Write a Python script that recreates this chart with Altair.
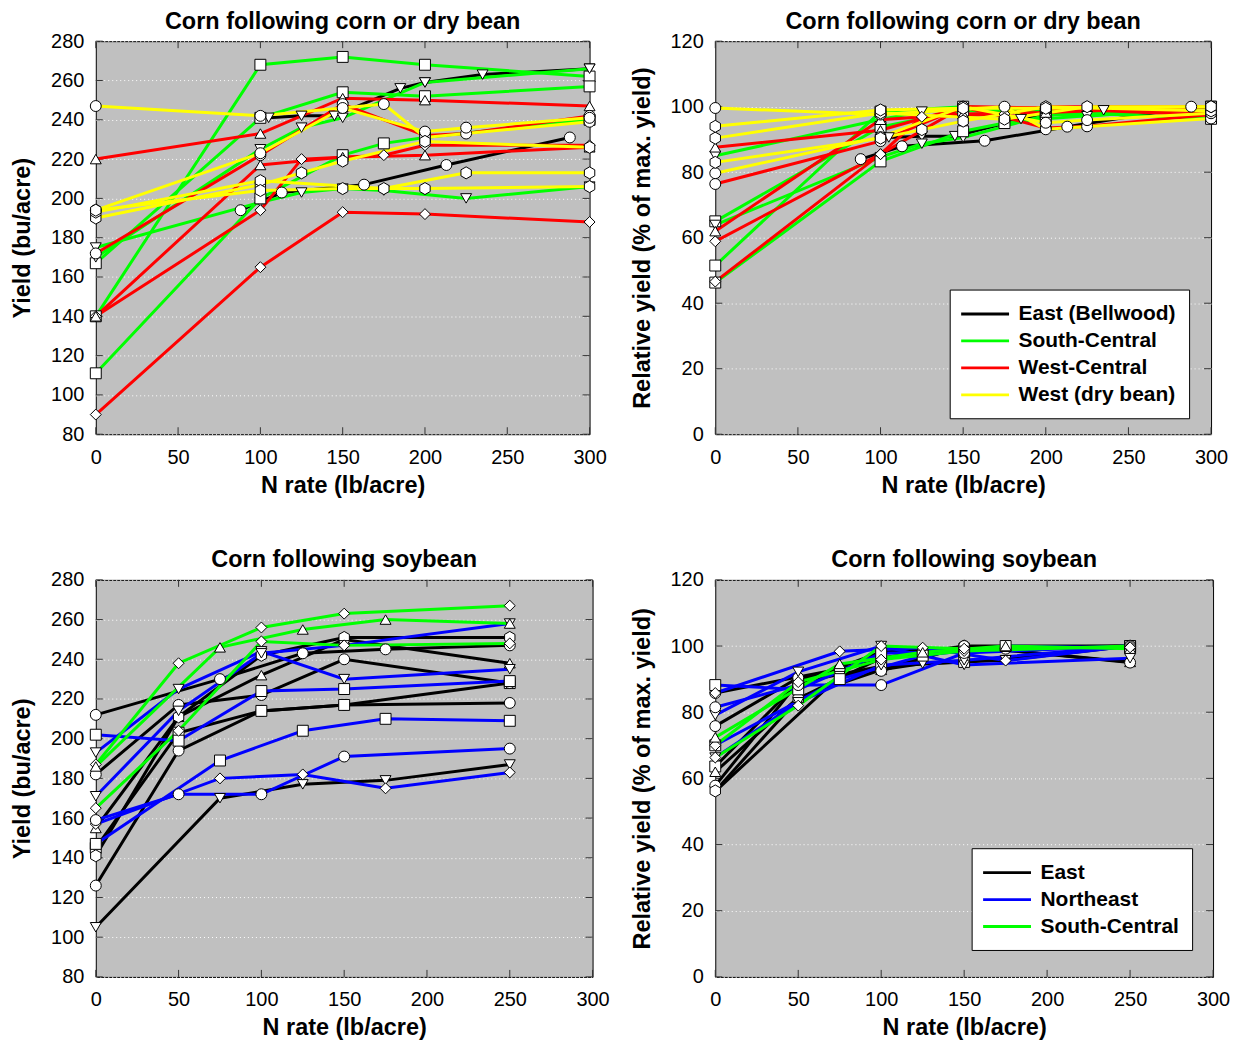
import altair as alt
import pandas as pd

FONT = "Liberation Sans"

# ---------------- shared axis values ----------------
X_TICKS = [0, 50, 100, 150, 200, 250, 300]
YIELD_TICKS = [80, 100, 120, 140, 160, 180, 200, 220, 240, 260, 280]
REL_TICKS = [0, 20, 40, 60, 80, 100, 120]

# ---------------- regions / colours ----------------
REGIONS_TOP = ["East (Bellwood)", "South-Central", "West-Central", "West (dry bean)"]
COLORS_TOP = ["#000000", "#00ff00", "#ff0000", "#ffff00"]
REGIONS_BOT = ["East", "Northeast", "South-Central"]
COLORS_BOT = ["#000000", "#0000ff", "#00ff00"]

MARKERS = ["circle", "square", "tri_up", "tri_down", "diamond", "hexagon"]
SHAPES = ["circle", "square", "triangle-up", "triangle-down", "diamond",
          "M0,-1.1L0.95,-0.55L0.95,0.55L0,1.1L-0.95,0.55L-0.95,-0.55Z"]

# ---------------- top-left: yield, corn following corn or dry bean ----------------
tl_e1_x = [105, 125, 145, 185, 200, 235, 300]
tl_e1_y = [241, 242, 242, 256, 259, 263, 266]
tl_e2_x = [88, 113, 163, 213, 288]
tl_e2_y = [194, 203, 207, 217, 231]
tl_g1_x = [0, 100, 150, 200, 300]
tl_g1_y = [140, 268, 272, 268, 262]
tl_g2_x = [0, 100, 150, 200, 300]
tl_g2_y = [167, 241, 254, 252, 257]
tl_g3_x = [0, 100, 125, 150, 200, 300]
tl_g3_y = [170, 225, 236, 241, 259, 266]
tl_g4_x = [0, 100, 125, 150, 175, 225, 300]
tl_g4_y = [175, 198, 203, 205, 204, 200, 206]
tl_g5_x = [0, 100, 150, 175, 200, 300]
tl_g5_y = [111, 200, 222, 228, 231, 240]
tl_w1_x = [0, 100, 150, 200, 300]
tl_w1_y = [220, 233, 251, 250, 247]
tl_w2_x = [0, 100, 150, 200, 300]
tl_w2_y = [90, 165, 193, 192, 188]
tl_w3_x = [0, 100, 125, 175, 200, 300]
tl_w3_y = [140, 194, 220, 222, 227, 227]
tl_w4_x = [0, 100, 150, 200, 300]
tl_w4_y = [140, 217, 221, 222, 226]
tl_w5_x = [0, 100, 150, 200, 225, 300]
tl_w5_y = [172, 222, 248, 232, 233, 242]
tl_y1_x = [0, 100, 175, 200, 300]
tl_y1_y = [247, 242, 248, 231, 239]
tl_y2_x = [0, 100, 150, 200, 225, 300]
tl_y2_y = [194, 223, 246, 234, 236, 241]
tl_y3_x = [0, 100, 125, 150, 200, 300]
tl_y3_y = [190, 207, 213, 219, 229, 226]
tl_y4_x = [0, 100, 175, 225, 300]
tl_y4_y = [193, 209, 205, 213, 213]
tl_y5_x = [0, 100, 150, 200, 300]
tl_y5_y = [194, 204, 205, 205, 206]

# ---------------- top-right: relative yield, corn following corn or dry bean ----------------
tr_e1_y = [90.6, 91.0, 91.0, 96.2, 97.4, 98.9, 100]
tr_e2_y = [84.0, 87.9, 89.6, 93.9, 100]
tr_g1_y = [51.5, 98.5, 100, 98.5, 96.3]
tr_g2_y = [65.0, 93.8, 98.8, 98.0, 100]
tr_g3_y = [63.9, 84.6, 88.7, 90.6, 97.4, 100]
tr_g4_y = [85.0, 96.1, 98.5, 99.5, 99.0, 97.1, 100]
tr_g5_y = [46.3, 83.3, 92.5, 95.0, 96.3, 100]
tr_w1_y = [87.6, 92.8, 100, 99.6, 98.4]
tr_w2_y = [46.6, 85.5, 100, 99.5, 97.4]
tr_w3_y = [58.9, 85.5, 96.9, 97.8, 100, 100]
tr_w4_y = [62.0, 96.0, 97.8, 98.2, 100]
tr_w5_y = [76.4, 89.5, 100, 93.5, 94.0, 97.6]
tr_y1_y = [99.6, 97.6, 100, 93.1, 96.4]
tr_y2_y = [79.7, 90.7, 100, 95.1, 95.9, 98.0]
tr_y3_y = [83.0, 90.4, 93.0, 95.6, 100, 98.7]
tr_y4_y = [90.4, 98.1, 96.2, 100, 100]
tr_y5_y = [94.0, 99.0, 99.5, 99.5, 100]

# ---------------- bottom-left: yield, corn following soybean ----------------
bl_s1_x = [0, 50, 100, 150, 250]
bl_s1_y = [187, 238, 256, 263, 267]
bl_s2_x = [0, 75, 125, 175, 250]
bl_s2_y = [186, 246, 255, 260, 258]
bl_s3_x = [0, 50, 100, 150, 250]
bl_s3_y = [165, 204, 249, 247, 248]
bl_n1_x = [0, 50, 100, 150, 250]
bl_n1_y = [193, 225, 244, 230, 235]
bl_n2_x = [0, 50, 100, 150, 250]
bl_n2_y = [171, 214, 243, 247, 258]
bl_n3_x = [0, 50, 100, 150, 250]
bl_n3_y = [202, 199, 224, 225, 229]
bl_n4_x = [0, 75, 125, 175, 250]
bl_n4_y = [147, 189, 204, 210, 209]
bl_n5_x = [0, 75, 125, 175, 250]
bl_n5_y = [157, 180, 182, 175, 183]
bl_n6_x = [0, 50, 100, 150, 250]
bl_n6_y = [159, 172, 172, 191, 195]
bl_b1_x = [0, 75, 125, 175, 250]
bl_b1_y = [212, 230, 243, 245, 247]
bl_b2_x = [0, 75, 125, 175, 250]
bl_b2_y = [105, 170, 177, 179, 187]
bl_b3_x = [0, 50, 100, 150, 250]
bl_b3_y = [126, 194, 214, 217, 218]
bl_b4_x = [0, 50, 100, 150, 250]
bl_b4_y = [145, 203, 214, 217, 228]
bl_b5_x = [0, 50, 100, 150, 250]
bl_b5_y = [155, 211, 232, 250, 238]
bl_b6_x = [0, 50, 100, 150, 250]
bl_b6_y = [141, 211, 242, 251, 251]
bl_b7_x = [0, 50, 100, 150, 250]
bl_b7_y = [182, 217, 222, 240, 228]

# ---------------- bottom-right: relative yield, corn following soybean ----------------
br_s1_y = [70.0, 89.1, 95.9, 98.5, 100]
br_s2_y = [72.4, 94.6, 98.1, 100, 99.2]
br_s3_y = [66.3, 82.0, 100, 99.2, 99.6]
br_n1_y = [79.1, 92.2, 100, 94.3, 96.3]
br_n2_y = [66.3, 83.0, 94.2, 95.7, 100]
br_n3_y = [88.2, 86.9, 97.8, 98.3, 100]
br_n4_y = [70.0, 90.0, 97.1, 100, 99.5]
br_n5_y = [85.8, 98.4, 99.5, 95.6, 100]
br_n6_y = [81.5, 88.2, 88.2, 97.9, 100]
br_b1_y = [85.8, 93.1, 98.4, 99.2, 100]
br_b2_y = [56.1, 90.9, 94.7, 95.7, 100]
br_b3_y = [57.8, 89.0, 98.2, 99.5, 100]
br_b4_y = [63.6, 89.0, 93.9, 95.2, 100]
br_b5_y = [62.0, 84.4, 92.8, 100, 95.2]
br_b6_y = [56.2, 84.1, 96.4, 100, 100]
br_b7_y = [75.8, 90.4, 92.5, 100, 95.0]

E, SC, WC, WD = REGIONS_TOP
TL = [
    ("E1", E, "tri_down", tl_e1_x, tl_e1_y), ("E2", E, "circle", tl_e2_x, tl_e2_y),
    ("G1", SC, "square", tl_g1_x, tl_g1_y), ("G2", SC, "square", tl_g2_x, tl_g2_y),
    ("G3", SC, "tri_down", tl_g3_x, tl_g3_y), ("G4", SC, "tri_down", tl_g4_x, tl_g4_y),
    ("G5", SC, "square", tl_g5_x, tl_g5_y),
    ("W1", WC, "tri_up", tl_w1_x, tl_w1_y), ("W2", WC, "diamond", tl_w2_x, tl_w2_y),
    ("W3", WC, "diamond", tl_w3_x, tl_w3_y), ("W4", WC, "tri_up", tl_w4_x, tl_w4_y),
    ("W5", WC, "circle", tl_w5_x, tl_w5_y),
    ("Y1", WD, "circle", tl_y1_x, tl_y1_y), ("Y2", WD, "circle", tl_y2_x, tl_y2_y),
    ("Y3", WD, "hexagon", tl_y3_x, tl_y3_y), ("Y4", WD, "hexagon", tl_y4_x, tl_y4_y),
    ("Y5", WD, "hexagon", tl_y5_x, tl_y5_y),
]
TR_Y = [tr_e1_y, tr_e2_y, tr_g1_y, tr_g2_y, tr_g3_y, tr_g4_y, tr_g5_y, tr_w1_y, tr_w2_y,
        tr_w3_y, tr_w4_y, tr_w5_y, tr_y1_y, tr_y2_y, tr_y3_y, tr_y4_y, tr_y5_y]
TR = [(s[0], s[1], s[2], s[3], ry) for s, ry in zip(TL, TR_Y)]

BE, BN, BS = REGIONS_BOT
BL = [
    ("B1", BE, "circle", bl_b1_x, bl_b1_y), ("B2", BE, "tri_down", bl_b2_x, bl_b2_y),
    ("B3", BE, "circle", bl_b3_x, bl_b3_y), ("B4", BE, "square", bl_b4_x, bl_b4_y),
    ("B5", BE, "tri_up", bl_b5_x, bl_b5_y), ("B6", BE, "hexagon", bl_b6_x, bl_b6_y),
    ("B7", BE, "circle", bl_b7_x, bl_b7_y),
    ("N1", BN, "tri_down", bl_n1_x, bl_n1_y), ("N2", BN, "tri_down", bl_n2_x, bl_n2_y),
    ("N3", BN, "square", bl_n3_x, bl_n3_y), ("N4", BN, "square", bl_n4_x, bl_n4_y),
    ("N5", BN, "diamond", bl_n5_x, bl_n5_y), ("N6", BN, "circle", bl_n6_x, bl_n6_y),
    ("S1", BS, "diamond", bl_s1_x, bl_s1_y), ("S2", BS, "tri_up", bl_s2_x, bl_s2_y),
    ("S3", BS, "diamond", bl_s3_x, bl_s3_y),
]
BR_Y = [br_b1_y, br_b2_y, br_b3_y, br_b4_y, br_b5_y, br_b6_y, br_b7_y, br_n1_y, br_n2_y,
        br_n3_y, br_n4_y, br_n5_y, br_n6_y, br_s1_y, br_s2_y, br_s3_y]
BR = [(s[0], s[1], s[2], s[3], ry) for s, ry in zip(BL, BR_Y)]


def make_legend(lx, ly):
    return alt.Legend(
        title=None, orient="none", legendX=lx, legendY=ly, direction="vertical",
        symbolType="M-2.4,0L2.4,0", symbolSize=400, symbolStrokeWidth=2.8,
        symbolOffset=11, labelOffset=22,
        labelFont=FONT, labelFontSize=21, labelFontWeight="bold", labelColor="black",
        strokeColor="black", fillColor="white", padding=13, rowPadding=5,
        cornerRadius=0, labelLimit=400,
    )


def panel(series, title, ytitle, ydomain, yticks, regions, colors, legend, w, h):
    rows = []
    for sid, reg, mk, xs_, ys_ in series:
        for xv, yv in zip(xs_, ys_):
            rows.append({"sid": sid, "region": reg, "marker": mk, "x": xv, "y": yv})
    df = pd.DataFrame(rows)

    xsc = alt.Scale(domain=[0, 300], nice=False, zero=False)
    ysc = alt.Scale(domain=ydomain, nice=False, zero=False)
    xax = alt.Axis(values=X_TICKS, title="N rate (lb/acre)", grid=False, ticks=False,
                   domain=False, labelPadding=13, titlePadding=6, labelFlush=False)
    yax = alt.Axis(values=yticks, title=ytitle, grid=True, gridColor="white",
                   gridDash=[1, 3], gridWidth=1, ticks=False, domain=False,
                   labelPadding=12, titlePadding=16)

    X = alt.X("x:Q", scale=xsc, axis=xax)
    Y = alt.Y("y:Q", scale=ysc, axis=yax)

    xt = alt.Chart(pd.DataFrame({"t": X_TICKS}))
    yt = alt.Chart(pd.DataFrame({"t": yticks}))
    tx = alt.X("t:Q", scale=xsc, axis=xax)
    ty = alt.Y("t:Q", scale=ysc, axis=yax)
    tick_col = "#333333"
    bottom = xt.mark_rule(color=tick_col, strokeWidth=1).encode(x=tx, y=alt.value(h), y2=alt.value(h - 7))
    top = xt.mark_rule(color=tick_col, strokeWidth=1).encode(x=tx, y=alt.value(0), y2=alt.value(7))
    left = yt.mark_rule(color=tick_col, strokeWidth=1).encode(y=ty, x=alt.value(0), x2=alt.value(7))
    right = yt.mark_rule(color=tick_col, strokeWidth=1).encode(y=ty, x=alt.value(w - 7), x2=alt.value(w))

    base = alt.Chart(df)
    lines = base.mark_line(strokeWidth=3).encode(
        x=X, y=Y,
        color=alt.Color("region:N", scale=alt.Scale(domain=regions, range=colors),
                        legend=legend),
        detail="sid:N",
    )
    pts = base.mark_point(filled=True, fill="white", stroke="black", strokeWidth=1,
                          size=120, opacity=1).encode(
        x=X, y=Y,
        shape=alt.Shape("marker:N", scale=alt.Scale(domain=MARKERS, range=SHAPES), legend=None),
        detail="sid:N",
    )
    return alt.layer(left, right, bottom, top, lines, pts).properties(
        width=w, height=h,
        title=alt.TitleParams(title, font=FONT, fontSize=23.5, fontWeight="bold",
                              color="black", anchor="middle", offset=-2),
    )


tl = panel(TL, "Corn following corn or dry bean", "Yield (bu/acre)", [80, 280],
           YIELD_TICKS, REGIONS_TOP, COLORS_TOP, None, 495, 394)
tr = panel(TR, "Corn following corn or dry bean", "Relative yield (% of max. yield)", [0, 120],
           REL_TICKS, REGIONS_TOP, COLORS_TOP, make_legend(235, 249), 497, 394)
bl = panel(BL, "Corn following soybean", "Yield (bu/acre)", [80, 280],
           YIELD_TICKS, REGIONS_BOT, COLORS_BOT, None, 498, 398)
br = panel(BR, "Corn following soybean", "Relative yield (% of max. yield)", [0, 120],
           REL_TICKS, REGIONS_BOT, COLORS_BOT, make_legend(257, 269), 499, 398)

chart = (
    alt.concat(tl, tr, bl, br, columns=2,
               spacing=alt.RowColnumber(row=51, column=19))
    .resolve_scale(x="independent", y="independent", color="independent", shape="independent")
    .resolve_legend(color="independent", shape="independent")
    .properties(padding={"left": 2, "top": 0, "right": 2, "bottom": 0}, background="white")
    .configure_view(fill="#c0c0c0", stroke="black", strokeWidth=1)
    .configure_axis(labelFont=FONT, labelFontSize=20, labelColor="black",
                    titleFont=FONT, titleFontSize=23.5, titleFontWeight="bold",
                    titleColor="black")
)

chart.save("out.html", embed_options={"renderer": "svg", "actions": False})
